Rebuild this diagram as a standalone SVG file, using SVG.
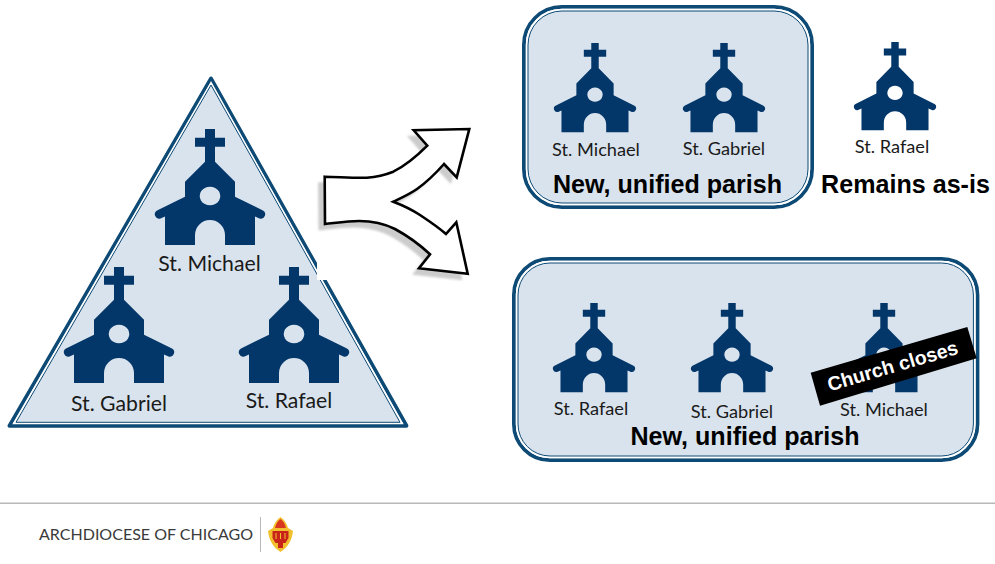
<svg xmlns="http://www.w3.org/2000/svg" width="995" height="564" viewBox="0 0 995 564">
<style>
.lbl{font-family:Lato,"Open Sans",sans-serif;fill:#1a1a1a;text-anchor:middle}
.l{font-size:21.200px}
.s{font-size:18.200px}
.b{font-family:"Liberation Sans",Arial,sans-serif;font-weight:700;font-size:25.100px;fill:#000;text-anchor:middle}
.o{fill:none;stroke:#0d4a75;stroke-width:3.800}
.w{fill:none;stroke:#fff;stroke-width:1.400}
.i{fill:#d9e3ed;stroke:#0d4a75;stroke-width:1}
.ch{fill:#03376a}
</style>
<defs>
<g id="church">
<path class="ch" fill-rule="evenodd" d="M-5 0H5V8.700H15V17.700H5V32.700L25 52.700V67.700L53 81.500A4.400 4.400 0 0 1 49.500 89.500L45 87.500V116H15V106A15 15 0 0 0 -15 106V116H-45V87.500L-49.500 89.500A4.400 4.400 0 0 1 -53 81.500L-25 67.700V52.700L-5 32.700V17.700H-15V8.700H-5ZM0 57.700A10.300 9.300 0 1 0 .01 57.700Z"/>
</g>
<filter id="bl" x="-10%" y="-10%" width="120%" height="120%"><feGaussianBlur stdDeviation=".8"/></filter>
<path id="arr" d="M324.700 176.700C340 177 352 178 366.700 177.700C376 177 385 175 393.300 171.700C405 166 417 156 427.300 145.700L413.700 130.300L469.300 129L456.700 177.300L444 164C436 173 427 182 417 189C410 194 401 198 393.300 201.700C402 205 411 209 420 215C429 221 438 227 446 234L456.300 222.300L467.700 273.700L419 268.300L430 254.300C418 243 406 235 395 229C385 224 372 221 359 221C347 221 335 223 325 224Z"/>
</defs>

<g id="triangle-parish">
<path class="o" stroke-linejoin="round" d="M211 78.500L9.500 425.800H406.500Z"/>
<path class="w" d="M211 82.500L13.500 423.600H402.500Z"/>
<path class="i" d="M211 85L16 422.300H400Z"/>
<use href="#church" x="210" y="129"/>
<text class="lbl l" x="209.500" y="271">St. Michael</text>
<use href="#church" x="119" y="267"/>
<text class="lbl l" x="119" y="411">St. Gabriel</text>
<use href="#church" x="294" y="267"/>
<text class="lbl l" x="289" y="408">St. Rafael</text>
</g>

<g id="connectors">
<rect x="317" y="115" width="165" height="165" fill="#fff"/>
<use href="#arr" transform="translate(-6 6)" fill="#cccccc" stroke="#cccccc" stroke-width="1" filter="url(#bl)"/>
<use href="#arr" fill="#fff" stroke="#000" stroke-width="2.600" stroke-linejoin="miter"/>
</g>

<g id="parish-top">
<rect class="o" x="523.900" y="6.900" width="288.200" height="200.200" rx="38"/>
<rect class="w" x="526.500" y="9.500" width="283" height="195" rx="35"/>
<rect class="i" x="528" y="11" width="280" height="192" rx="34"/>
<use href="#church" transform="translate(595 43) scale(.745 .77)"/>
<text class="lbl s" x="596" y="156">St. Michael</text>
<use href="#church" transform="translate(724 43) scale(.745 .77)"/>
<text class="lbl s" x="724" y="155">St. Gabriel</text>
<text class="b" x="667.500" y="193">New, unified parish</text>
</g>

<g id="parish-rafael">
<use href="#church" transform="translate(895 42) scale(.745 .76)"/>
<text class="lbl s" x="892" y="153">St. Rafael</text>
<text class="b" x="905.500" y="193">Remains as-is</text>
</g>

<g id="parish-bottom">
<rect class="o" x="513.900" y="258.900" width="463.600" height="201.200" rx="36"/>
<rect class="w" x="516.500" y="261.500" width="458.400" height="196" rx="33"/>
<rect class="i" x="518" y="263" width="455.400" height="193" rx="32"/>
<use href="#church" transform="translate(594 303) scale(.745 .77)"/>
<text class="lbl s" x="591" y="415">St. Rafael</text>
<use href="#church" transform="translate(732 303) scale(.745 .77)"/>
<text class="lbl s" x="732" y="418">St. Gabriel</text>
<use href="#church" transform="translate(884 303) scale(.745 .77)"/>
<text class="lbl s" x="884" y="416">St. Michael</text>
<text class="b" x="745" y="445">New, unified parish</text>
<path d="M810.700 372.700L967.300 327L976.700 358.300L820 405.700Z" fill="#000"/>
<text transform="translate(894.500 372.500) rotate(-16.300)" font-family="Liberation Sans, Arial, sans-serif" font-weight="700" font-size="19.600" fill="#fff" text-anchor="middle">Church closes</text>
</g>

<g id="footer">
<line x1="0" y1="503.300" x2="995" y2="503.300" stroke="#b8b8b8" stroke-width="1.600"/>
<text x="39" y="540" font-family="Lato, sans-serif" font-size="16" fill="#3a3a3a" textLength="214" lengthAdjust="spacingAndGlyphs">ARCHDIOCESE OF CHICAGO</text>
<line x1="260.500" y1="517" x2="260.500" y2="552" stroke="#b8b8b8" stroke-width="1"/>
<path d="M280.500 517C285 520 287 524 288 528L293 531C292 541 287 548 280.500 552C274 548 269 541 268 531L273 528C274 524 276 520 280.500 517Z" fill="#f2c02e"/>
<path d="M280.500 519C283.500 521 285 524 286 528H275C276 524 277.500 521 280.500 519Z" fill="#d9381e"/>
<path d="M272.500 531H288.500V538L285.500 543H283V548H278V543H275.500L272.500 538Z" fill="#c8241a"/>
<path d="M276 533V539M280.500 533V539M285 533V539" stroke="#f2c02e" stroke-width="1"/>
</g>
</svg>
